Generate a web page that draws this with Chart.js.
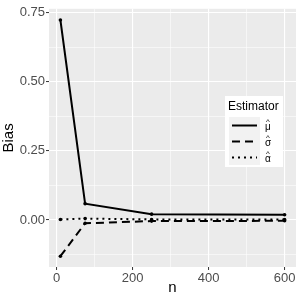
<!DOCTYPE html>
<html><head><meta charset="utf-8">
<script src="https://cdn.jsdelivr.net/npm/chart.js@4/dist/chart.umd.min.js"></script>
<style>html,body{margin:0;padding:0;background:#fff}#wrap{width:300px;height:300px}</style>
</head><body><div id="wrap"><canvas id="c" width="300" height="300"></canvas></div>
<script>
const nValues = [10, 75, 250, 600];
const muBias = [0.723, 0.059, 0.021, 0.019];
const sigmaBias = [-0.131, -0.012, -0.004, -0.003];
const alphaBias = [0.002, 0.005, 0.002, 0.002];
const yMajorTicks = [0, 0.25, 0.5, 0.75];
const yMinorTicks = [-0.125, 0.125, 0.375, 0.625];
const xMajorTicks = [0, 200, 400, 600];
const xMinorTicks = [100, 300, 500];
const legendTitle = 'Estimator';
const legendLetters = ['μ', 'σ', 'α'];
const seriesDashes = [[], [8, 5], [2, 4]];

const FONT = "'Liberation Sans', Arial, sans-serif";
const isMajor = (arr, v) => arr.some(m => Math.abs(m - v) < 1e-9);

const panelBg = {
  id: 'panelBg',
  beforeDraw(chart) {
    const {ctx, chartArea: a} = chart;
    ctx.save();
    ctx.fillStyle = '#EBEBEB';
    ctx.fillRect(a.left, a.top, a.right - a.left, a.bottom - a.top);
    ctx.restore();
  }
};

const ggLegend = {
  id: 'ggLegend',
  afterDraw(chart) {
    const ctx = chart.ctx;
    const x0 = 225, y0 = 96, w = 58, h = 71;
    ctx.save();
    ctx.fillStyle = '#FFFFFF';
    ctx.fillRect(x0, y0, w, h);
    ctx.fillStyle = '#000';
    ctx.font = '12px ' + FONT;
    ctx.textBaseline = 'middle';
    ctx.textAlign = 'left';
    ctx.fillText(legendTitle, x0 + 3, y0 + 11);
    const keyX = 229, keyW = 31, keyTop = 117, keyH = 16;
    ctx.fillStyle = '#F2F2F2';
    ctx.fillRect(keyX, keyTop, keyW, keyH * legendLetters.length);
    legendLetters.forEach((L, i) => {
      const cy = keyTop + keyH * i + keyH / 2 + 0.5;
      ctx.strokeStyle = '#000';
      ctx.lineWidth = 2;
      ctx.setLineDash(seriesDashes[i]);
      ctx.beginPath();
      ctx.moveTo(keyX + 3, cy);
      ctx.lineTo(keyX + keyW - 3, cy);
      ctx.stroke();
      ctx.setLineDash([]);
      ctx.fillStyle = '#000';
      ctx.textAlign = 'center';
      ctx.font = '10px ' + FONT;
      ctx.fillText(L, 268, cy + 2);
      ctx.font = '8px ' + FONT;
      ctx.fillText('^', 268, cy - 4);
    });
    ctx.restore();
  }
};

const mk = (label, data, dash) => ({
  label,
  data: nValues.map((n, i) => ({x: n, y: data[i]})),
  borderColor: '#000', backgroundColor: '#000',
  borderWidth: 2, borderDash: dash, borderCapStyle: 'butt',
  pointRadius: 1.8, pointBorderWidth: 0, pointBackgroundColor: '#000',
  tension: 0
});

new Chart(document.getElementById('c'), {
  type: 'line',
  data: { datasets: [
    mk('mu', muBias, seriesDashes[0]),
    mk('sigma', sigmaBias, seriesDashes[1]),
    mk('alpha', alphaBias, seriesDashes[2])
  ]},
  options: {
    responsive: false, animation: false, devicePixelRatio: 1,
    layout: { padding: { top: 4, right: 4, left: 0, bottom: 0 } },
    plugins: { legend: { display: false }, tooltip: { enabled: false } },
    scales: {
      x: {
        type: 'linear', min: -20, max: 630,
        afterBuildTicks: s => { s.ticks = [...xMajorTicks, ...xMinorTicks].sort((a,b)=>a-b).map(v => ({value: v})); },
        afterFit: s => { s.height = 33; },
        border: { display: false },
        grid: {
          color: '#FFFFFF',
          lineWidth: c => isMajor(xMajorTicks, c.tick.value) ? 1.1 : 0.55,
          tickColor: c => isMajor(xMajorTicks, c.tick.value) ? '#333333' : 'rgba(0,0,0,0)',
          tickLength: 3, tickWidth: 1
        },
        ticks: {
          autoSkip: false, maxRotation: 0, padding: 1,
          color: '#4D4D4D', font: { family: FONT, size: 13 },
          callback: v => isMajor(xMajorTicks, v) ? String(v) : ''
        },
        title: { display: true, text: 'n', color: '#000', font: { family: FONT, size: 15 }, padding: { top: 0, bottom: 3 } }
      },
      y: {
        type: 'linear', min: -0.170, max: 0.7635,
        afterBuildTicks: s => { s.ticks = [...yMajorTicks, ...yMinorTicks].sort((a,b)=>a-b).map(v => ({value: v})); },
        afterFit: s => { s.width = 49; },
        border: { display: false },
        grid: {
          color: '#FFFFFF',
          lineWidth: c => isMajor(yMajorTicks, c.tick.value) ? 1.1 : 0.55,
          tickColor: c => isMajor(yMajorTicks, c.tick.value) ? '#333333' : 'rgba(0,0,0,0)',
          tickLength: 3, tickWidth: 1
        },
        ticks: {
          autoSkip: false, padding: 1,
          color: '#4D4D4D', font: { family: FONT, size: 13 },
          callback: v => isMajor(yMajorTicks, v) ? v.toFixed(2) : ''
        },
        title: { display: true, text: 'Bias', color: '#000', font: { family: FONT, size: 15 }, padding: { top: 0, bottom: 0 } }
      }
    }
  },
  plugins: [panelBg, ggLegend]
});
</script>
</body></html>
